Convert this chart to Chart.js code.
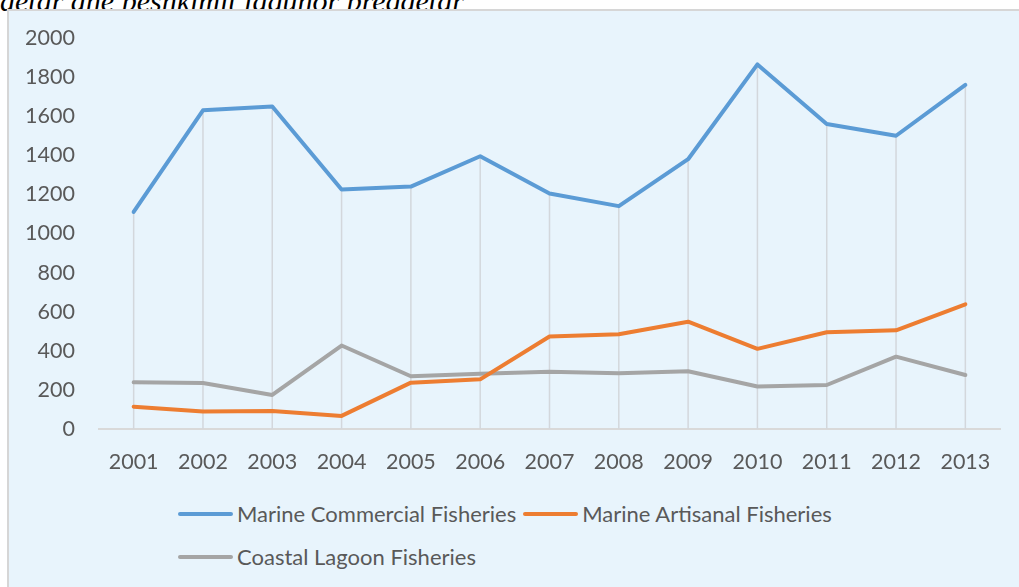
<!DOCTYPE html>
<html>
<head>
<meta charset="utf-8">
<script src="https://cdn.jsdelivr.net/npm/chart.js@4.4.1/dist/chart.umd.min.js"></script>
<style>
html, body { margin: 0; padding: 0; width: 1019px; height: 587px; overflow: hidden; background: #fff; }
#caption { position: absolute; left: 0; top: -14px; font-family: "Liberation Serif", "DejaVu Serif", serif; font-style: italic; font-size: 30px; line-height: 30px; color: #000; white-space: nowrap; }
#frame { position: absolute; left: 7px; top: 9px; width: 1040px; height: 600px; background: #E8F4FC; border: 2px solid #D6D6D6; box-sizing: border-box; }
#chartBox { position: absolute; left: 0; top: 0; width: 1010px; height: 469px; }
#legend { position: absolute; left: 169px; top: 490px; width: 720px; display: flex; flex-wrap: wrap; row-gap: 18px;
          font: 22px Lato, sans-serif; color: #595959; }
#legend .item { display: flex; align-items: center; height: 25px; margin-right: 7px; white-space: nowrap; }
#legend .swatch { width: 55px; height: 4px; border-radius: 2px; margin-right: 4px; }
</style>
</head>
<body>
<div id="caption">detar dhe peshkimit lagunor bregdetar</div>
<div id="frame">
  <div id="chartBox"><canvas id="fishChart"></canvas></div>
  <div id="legend"></div>
</div>
<script>
// --- Data ---
const YEARS = ['2001', '2002', '2003', '2004', '2005', '2006', '2007', '2008', '2009', '2010', '2011', '2012', '2013'];
const MARINE_COMMERCIAL = [1110, 1630, 1650, 1225, 1240, 1395, 1205, 1140, 1380, 1865, 1560, 1500, 1760];
const MARINE_ARTISANAL = [114, 89, 92, 67, 237, 254, 473, 485, 549, 410, 495, 505, 638];
const COASTAL_LAGOON = [239, 235, 174, 427, 270, 283, 293, 285, 295, 217, 225, 370, 276];
const Y_TICKS = { min: 0, max: 2000, step: 200 };

const SERIES = [
    { label: 'Marine Commercial Fisheries', data: MARINE_COMMERCIAL, color: '#5B9BD5' },
    { label: 'Marine Artisanal Fisheries', data: MARINE_ARTISANAL, color: '#ED7D31' },
    { label: 'Coastal Lagoon Fisheries', data: COASTAL_LAGOON, color: '#A5A5A5' }
];

Chart.defaults.font.family = 'Lato, sans-serif';
Chart.defaults.font.size = 21.5;
Chart.defaults.color = '#595959';

// Excel-style drop lines: from the highest series down to the category axis
const dropLines = {
    id: 'dropLines',
    beforeDatasetsDraw(chart) {
        const { ctx, scales: { y } } = chart;
        const base = y.getPixelForValue(0);
        const metas = chart.data.datasets.map((d, i) => chart.getDatasetMeta(i));
        ctx.save();
        ctx.strokeStyle = '#D3D7DC';
        ctx.lineWidth = 1.5;
        metas[0].data.forEach((pt, idx) => {
            const top = Math.min(...metas.map(m => m.data[idx].y));
            ctx.beginPath();
            ctx.moveTo(pt.x, base);
            ctx.lineTo(pt.x, top);
            ctx.stroke();
        });
        ctx.restore();
    }
};

const chart = new Chart(document.getElementById('fishChart'), {
    type: 'line',
    data: {
        labels: YEARS,
        datasets: SERIES.map(s => ({
            label: s.label,
            data: s.data,
            borderColor: s.color,
            backgroundColor: s.color,
            borderWidth: 4,
            borderJoinStyle: 'round',
            borderCapStyle: 'round',
            pointRadius: 0,
            tension: 0
        }))
    },
    options: {
        responsive: true,
        maintainAspectRatio: false,
        animation: false,
        layout: { padding: { top: 27, right: 19, bottom: 0, left: 0 } },
        plugins: { legend: { display: false }, tooltip: { enabled: false } },
        scales: {
            x: {
                offset: true,
                grid: { display: false, drawTicks: false },
                border: { display: true, color: '#D9D9D9', width: 2 },
                ticks: { padding: 20, maxRotation: 0 },
                afterFit: scale => { scale.height = 51; }
            },
            y: {
                min: Y_TICKS.min,
                max: Y_TICKS.max,
                grid: { display: false, drawTicks: false },
                border: { display: false },
                ticks: { stepSize: Y_TICKS.step, padding: 24, callback: v => String(v) },
                afterFit: scale => { scale.width = 90; scale.paddingTop = 0; scale.paddingBottom = 0; }
            }
        }
    },
    plugins: [dropLines]
});

// --- HTML legend built from the datasets ---
const legendEl = document.getElementById('legend');
chart.data.datasets.forEach(ds => {
    const item = document.createElement('div');
    item.className = 'item';
    const sw = document.createElement('span');
    sw.className = 'swatch';
    sw.style.background = ds.borderColor;
    const txt = document.createElement('span');
    txt.textContent = ds.label;
    item.appendChild(sw);
    item.appendChild(txt);
    legendEl.appendChild(item);
});
</script>
</body>
</html>
